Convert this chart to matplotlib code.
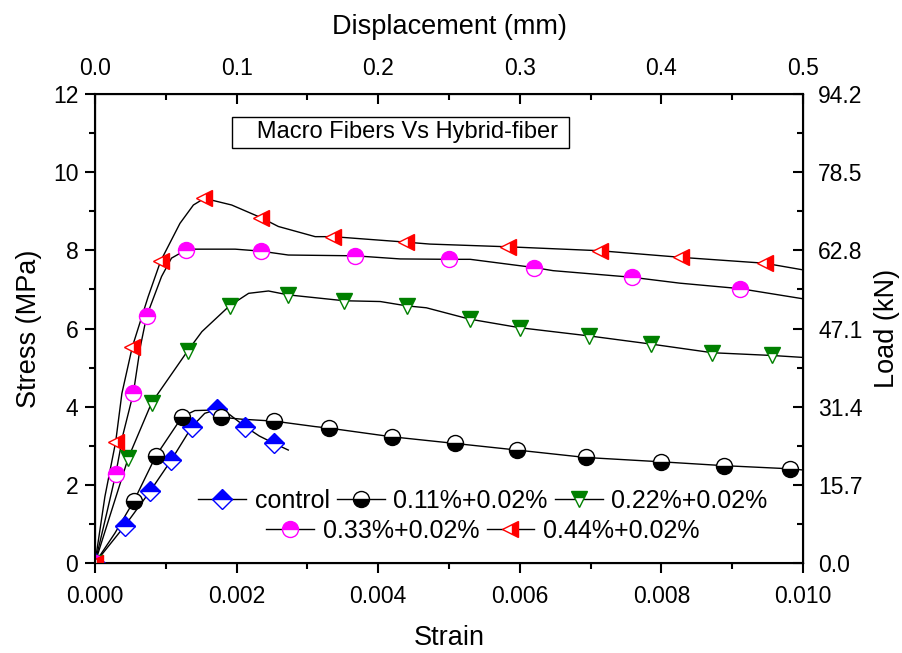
import numpy as np
import matplotlib
matplotlib.use("Agg")
import matplotlib.pyplot as plt
from matplotlib.lines import Line2D
from matplotlib.ticker import MultipleLocator, FormatStrFormatter

plt.rcParams['font.family'] = ['Liberation Sans', 'DejaVu Sans']

# curves: strain, stress (MPa), and which points carry a marker
control_strain = [0, 0.00042, 0.00078, 0.00108, 0.00137, 0.00155, 0.00173, 0.00190, 0.00212, 0.00232, 0.00253, 0.00273]
control_stress = [0, 0.95, 1.84, 2.64, 3.49, 3.83, 3.93, 3.80, 3.49, 3.25, 3.06, 2.89]
control_marks = [0, 1, 2, 3, 4, 6, 8, 10]

f011_strain = [0, 0.00028, 0.00055, 0.00086, 0.00123, 0.00141, 0.0016, 0.00178, 0.00207, 0.00253, 0.00311,
               0.00331, 0.00419, 0.00508, 0.00596, 0.00693, 0.00799, 0.00889, 0.00982, 0.0100]
f011_stress = [0, 0.76, 1.59, 2.74, 3.74, 3.90, 3.91, 3.73, 3.68, 3.63, 3.49,
               3.45, 3.23, 3.06, 2.89, 2.70, 2.59, 2.49, 2.41, 2.38]
f011_marks = [0, 2, 3, 4, 7, 9, 11, 12, 13, 14, 15, 16, 17, 18]

f022_strain = [0, 0.00047, 0.0008, 0.00131, 0.00151, 0.0019, 0.00217, 0.00245, 0.00273, 0.00352,
               0.00403, 0.0044, 0.00468, 0.00529, 0.0060, 0.00698, 0.00786, 0.00872, 0.00956, 0.0100]
f022_stress = [0, 2.69, 4.10, 5.43, 5.92, 6.58, 6.90, 6.96, 6.86, 6.71,
               6.69, 6.58, 6.53, 6.24, 6.02, 5.81, 5.60, 5.38, 5.31, 5.26]
f022_marks = [0, 1, 2, 3, 5, 8, 9, 11, 13, 14, 15, 16, 17, 18]

f033_strain = [0, 0.000165, 0.000292, 0.0004, 0.000541, 0.00064, 0.00073, 0.00094, 0.00108, 0.001285, 0.00141,
               0.00198, 0.00234, 0.00273, 0.00367, 0.00431, 0.0050, 0.0053, 0.0062, 0.00647, 0.00759,
               0.00826, 0.00911, 0.0100]
f033_stress = [0, 1.27, 2.27, 3.32, 4.34, 5.53, 6.32, 7.33, 7.80, 8.01, 8.03,
               8.03, 7.98, 7.88, 7.86, 7.78, 7.77, 7.77, 7.56, 7.48, 7.31,
               7.16, 7.02, 6.76]
f033_marks = [0, 2, 4, 6, 9, 12, 14, 16, 18, 20, 22]

f044_strain = [0, 0.00014, 0.000292, 0.00038, 0.000527, 0.00075, 0.000928, 0.0012, 0.00139, 0.001544, 0.00193,
               0.00234, 0.00259, 0.00311, 0.00336, 0.00439, 0.00473, 0.00584, 0.00713, 0.00828, 0.00946, 0.0100]
f044_stress = [0, 1.70, 3.10, 4.34, 5.53, 6.81, 7.73, 8.69, 9.16, 9.33, 9.16,
               8.84, 8.61, 8.35, 8.35, 8.21, 8.16, 8.09, 7.99, 7.82, 7.67, 7.50]
f044_marks = [0, 2, 4, 6, 9, 11, 14, 15, 17, 18, 19, 20]

series = [
    ("control", control_strain, control_stress, control_marks, "D", "blue", "top", 10),
    ("0.11%+0.02%", f011_strain, f011_stress, f011_marks, "o", "black", "bottom", 11.5),
    ("0.22%+0.02%", f022_strain, f022_stress, f022_marks, "v", "green", "top", 12),
    ("0.33%+0.02%", f033_strain, f033_stress, f033_marks, "o", "magenta", "top", 11.5),
    ("0.44%+0.02%", f044_strain, f044_stress, f044_marks, "<", "red", "right", 12),
]

fig = plt.figure(figsize=(9.03, 6.53), dpi=100)
ax = fig.add_axes([95 / 903, 90 / 653, 708 / 903, 469 / 653])

handles = []
for name, x, y, idx, mk, col, fill, ms in series:
    x = np.array(x)
    y = np.array(y)
    ax.plot(x, y, color="black", lw=1, zorder=2)
    ax.plot(x[idx], y[idx], ls="none", marker=mk, markersize=ms, color=col,
            markeredgecolor=col, markeredgewidth=1, fillstyle=fill,
            markerfacecoloralt="white", zorder=3)
    handles.append(Line2D([], [], color="black", lw=1, marker=mk, markersize=ms,
                          markerfacecolor=col, markeredgecolor=col, markeredgewidth=1,
                          fillstyle=fill, markerfacecoloralt="white", label=name))

ax.set_xlim(0, 0.010)
ax.set_ylim(0, 12)
ax.xaxis.set_major_locator(MultipleLocator(0.002))
ax.xaxis.set_minor_locator(MultipleLocator(0.001))
ax.xaxis.set_major_formatter(FormatStrFormatter("%.3f"))
ax.yaxis.set_major_locator(MultipleLocator(2))
ax.yaxis.set_minor_locator(MultipleLocator(1))
ax.tick_params(which="both", direction="out", width=1.5, labelsize=16.5)
ax.tick_params(which="major", length=7)
ax.tick_params(which="minor", length=4)
ax.tick_params(axis="x", pad=9)
ax.tick_params(axis="y", pad=5)
ax.set_xlabel("Strain", fontsize=19.5, labelpad=12)
ax.set_ylabel("Stress (MPa)", fontsize=19.5, labelpad=8)
for s in ax.spines.values():
    s.set_linewidth(1.5)

# right axis: load
ax2 = ax.twinx()
ax2.set_ylim(0, 94.2)
ax2.set_yticks([0, 15.7, 31.4, 47.1, 62.8, 78.5, 94.2])
ax2.set_yticks([7.85, 23.55, 39.25, 54.95, 70.65, 86.35], minor=True)
ax2.yaxis.set_major_formatter(FormatStrFormatter("%.1f"))
ax2.tick_params(which="both", direction="in", width=1.5, labelsize=16.5, pad=11)
ax2.tick_params(which="major", length=7)
ax2.tick_params(which="minor", length=4)
ax2.set_ylabel("Load (kN)", fontsize=19.5, labelpad=8)

# top axis: displacement
ax3 = ax.twiny()
ax3.set_xlim(0, 0.5)
ax3.xaxis.set_major_locator(MultipleLocator(0.1))
ax3.xaxis.set_minor_locator(MultipleLocator(0.05))
ax3.xaxis.set_major_formatter(FormatStrFormatter("%.1f"))
ax3.tick_params(which="both", direction="in", width=1.5, labelsize=16.5, pad=10)
ax3.tick_params(which="major", length=7)
ax3.tick_params(which="minor", length=4)
ax3.set_xlabel("Displacement (mm)", fontsize=19.5, labelpad=17)

ax.text(0.2, 0.918, "   Macro Fibers Vs Hybrid-fiber ", transform=ax.transAxes,
        fontsize=17, va="center", ha="left",
        bbox=dict(boxstyle="square,pad=0.2", facecolor="white", edgecolor="black", lw=1))

leg1 = ax.legend(handles=handles[:3], ncol=3, loc="center", bbox_to_anchor=(0.548, 0.133),
                 frameon=False, fontsize=18, numpoints=1, handlelength=1.9,
                 handletextpad=0.35, columnspacing=0.3, borderpad=0, borderaxespad=0)
ax.add_artist(leg1)
ax.legend(handles=handles[3:], ncol=2, loc="center", bbox_to_anchor=(0.548, 0.068),
          frameon=False, fontsize=18, numpoints=1, handlelength=1.9,
          handletextpad=0.35, columnspacing=0.3, borderpad=0, borderaxespad=0)

fig.savefig("out.png", dpi=100)
